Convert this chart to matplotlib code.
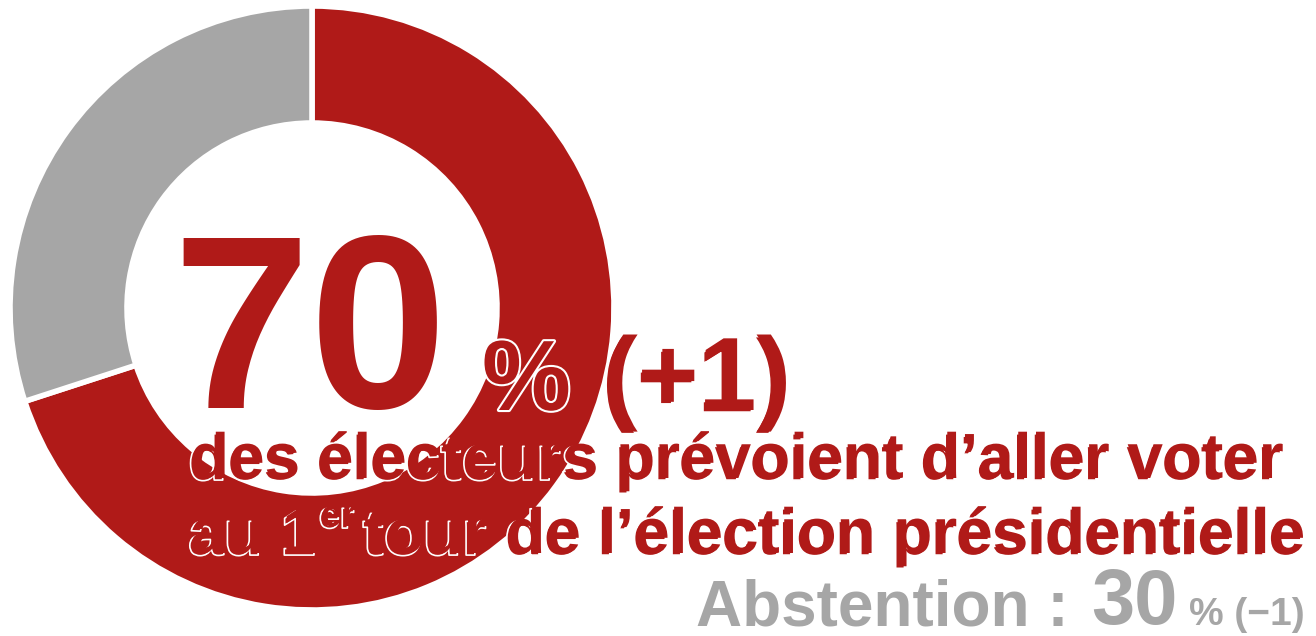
import numpy as np
import matplotlib.pyplot as plt
import matplotlib.patheffects as pe

plt.rcParams['font.family'] = ['Liberation Sans', 'DejaVu Sans']

# données
parts = ['Votants', 'Abstention']
shares = [70, 30]
changes = [1, -1]
colors = ['#B01A18', '#A6A6A6']

W, H = 1316, 636
fig = plt.figure(figsize=(W / 100, H / 100), dpi=100)
ax = fig.add_axes([0, 0, 1, 1])

ax.pie(shares, colors=colors, startangle=90, counterclock=False,
       center=(312, H - 308), radius=302,
       wedgeprops=dict(width=117, edgecolor='white', linewidth=4))
ax.set_xlim(0, W)
ax.set_ylim(0, H)
ax.set_aspect('equal')
ax.axis('off')

red, grey = colors
shadow = [pe.Stroke(linewidth=1.2, foreground='white', offset=(-1.5, -1.5)), pe.Normal()]
outline = [pe.Stroke(linewidth=3, foreground='white'), pe.Normal()]

fig.canvas.draw()
rend = fig.canvas.get_renderer()


def put(x, y, s, size, color, effects=None, ha='left'):
    t = ax.text(x, H - y, s, fontsize=size, fontweight='bold', color=color,
                ha=ha, va='baseline', path_effects=effects)
    bb = t.get_window_extent(rend)
    return t, bb


# grand chiffre
put(172, 408, f'{shares[0]}', 178, red)
put(482, 410, '%', 72, red, outline)
put(603, 410, f'(+{changes[0]})', 75, red, shadow)

# phrase
put(190, 478, 'des électeurs prévoient d’aller voter', 46, red, shadow)
t, bb = put(190, 553, 'au 1', 46, red, shadow)
t2, bb2 = put(bb.x1 + 3, 526, 'er', 27, red, shadow)
put(bb2.x1 + 8, 553, 'tour de l’élection présidentielle', 46, red, shadow)

# abstention (aligné à droite)
t, bb = put(1305, 625, f'% (\u2212{abs(changes[1])})', 28, grey, ha='right')
t, bb = put(bb.x0 - 12, 624, f'{shares[1]}', 56, grey, ha='right')
put(bb.x0 - 22, 626, 'Abstention :', 46, grey, ha='right')

fig.savefig('out.png', dpi=100)
